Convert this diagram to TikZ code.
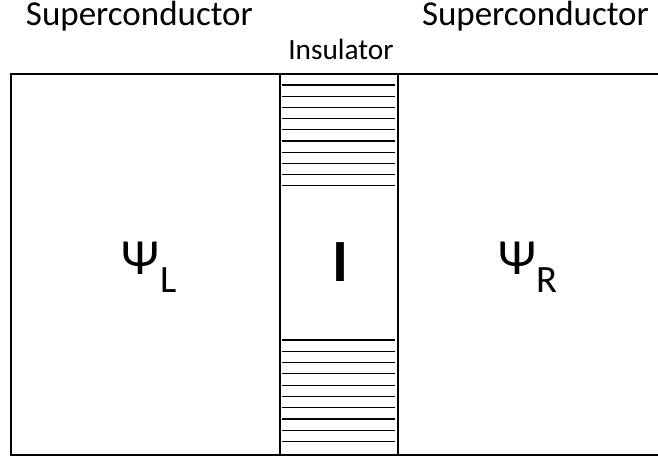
\documentclass[tikz,border=0pt]{standalone}
\usepackage{fontspec}
\setmainfont{Carlito}
\tikzset{
  frame/.style={line width=1.5pt, line cap=rect},
  hatch/.style={line width=0.9pt},
  lbl/.style={inner sep=0pt, outer sep=0pt},
  psi/.style={lbl, anchor=base west, font=\fontsize{38pt}{42pt}\selectfont},
  sub/.style={lbl, anchor=base west, font=\fontsize{29pt}{34pt}\selectfont},
}
\begin{document}
\begin{tikzpicture}[x=0.75pt,y=-0.75pt]
\useasboundingbox (0,0) rectangle (658,459);
% frame
\coordinate (tl) at (11,74);
\coordinate (bl) at (11,455);
\coordinate (tr) at (660,74);
\coordinate (br) at (660,455);
\draw[frame] (tr) -- (tl) -- (bl) -- (br);
% insulator walls
\coordinate (w1t) at (280,74);
\coordinate (w1b) at (280,455);
\coordinate (w2t) at (398,74);
\coordinate (w2b) at (398,455);
\draw[frame] (w1t) -- (w1b);
\draw[frame] (w2t) -- (w2b);
% hatching
\foreach \i in {0,...,9}{
  \draw[hatch] (282,{85+11.2*\i}) -- (395,{85+11.2*\i});
  \draw[hatch] (282,{340+11.3*\i}) -- (395,{340+11.3*\i});
}
% labels
\node[lbl, anchor=base west, font=\fontsize{26.25pt}{30pt}\selectfont] (scL) at (26,26) {Superconductor};
\node[lbl, anchor=base west, font=\fontsize{26.25pt}{30pt}\selectfont] (scR) at (422,26) {Superconductor};
\node[lbl, anchor=base, font=\fontsize{22pt}{26pt}\selectfont] (ins) at (341,60) {Insulator};
\node[psi] (psiL) at (121,275) {Ψ};
\node[sub] (subL) at (160,293) {L};
\node[psi] (psiR) at (498,275) {Ψ};
\node[sub] (subR) at (536,293) {R};
\node[lbl, anchor=base, font=\bfseries\fontsize{45pt}{50pt}\selectfont] (bigI) at (340.5,282) {I};
\end{tikzpicture}
\end{document}
